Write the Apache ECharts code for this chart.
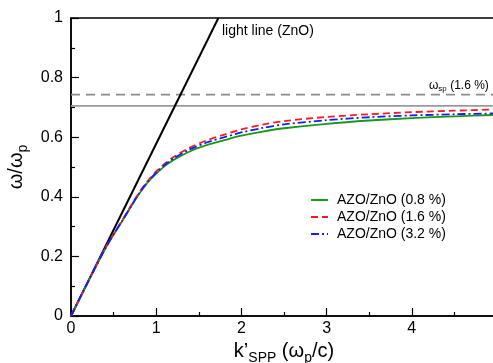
<!DOCTYPE html>
<html>
<head>
<meta charset="utf-8">
<script src="https://cdn.jsdelivr.net/npm/echarts@6/dist/echarts.min.js"></script>
<style>html,body{margin:0;padding:0;background:#fff}#c{width:493px;height:363px}</style>
</head>
<body>
<div id="c"></div>
<script>
var kValues = [0,0.1,0.2,0.3,0.4,0.5,0.6,0.7,0.8,0.9,1.0,1.1,1.2,1.4,1.6,1.8,2.0,2.25,2.5,3.0,3.5,4.0,4.5,5.0];
var azo08 = [0,0.058,0.115,0.171,0.225,0.273,0.318,0.365,0.41,0.448,0.478,0.503,0.523,0.553,0.574,0.590,0.605,0.619,0.630,0.645,0.656,0.664,0.670,0.675];
var azo16 = [0,0.058,0.115,0.171,0.226,0.275,0.321,0.368,0.414,0.453,0.485,0.511,0.533,0.566,0.590,0.609,0.626,0.642,0.654,0.668,0.677,0.684,0.689,0.693];
var azo32 = [0,0.058,0.115,0.171,0.225,0.274,0.319,0.366,0.412,0.450,0.481,0.507,0.528,0.560,0.583,0.600,0.616,0.631,0.643,0.657,0.667,0.673,0.677,0.680];
var lightLineK = [0, 1.73];
var lightLineW = [0, 1];
var omegaSp16 = 0.743;
var omegaRef = 0.705;
var xTicks = [0,1,2,3,4,5];
var yTicks = [0,0.2,0.4,0.6,0.8,1];
var seriesNames = ['AZO/ZnO (0.8 %)','AZO/ZnO (1.6 %)','AZO/ZnO (3.2 %)'];

function pairs(xs, ys){ return xs.map(function(x,i){return [x, ys[i]];}); }

var font = 'Liberation Sans, Arial, Helvetica, sans-serif';
var chart = echarts.init(document.getElementById('c'), null, {renderer:'canvas'});
chart.setOption({
  animation:false,
  backgroundColor:'#fff',
  grid:{left:71, top:18, right:-4, bottom:47, outerBoundsMode:'none', containLabel:false,
        show:true, borderColor:'#000', borderWidth:1.5, backgroundColor:'transparent'},
  legend:{
    data:seriesNames, orient:'vertical', left:310, top:193, itemGap:3, padding:0,
    itemWidth:17, itemHeight:10,
    itemStyle:{opacity:0},
    textStyle:{fontFamily:font, fontSize:14, color:'#000', padding:[0,0,0,4]}
  },
  xAxis:{
    type:'value', min:xTicks[0], max:xTicks[xTicks.length-1], interval:1,
    axisLine:{lineStyle:{color:'#000', width:1.5}},
    axisTick:{inside:true, length:8, lineStyle:{color:'#000', width:1.2}},
    minorTick:{show:true, splitNumber:2, length:4, lineStyle:{color:'#000', width:1.2}},
    splitLine:{show:false},
    axisLabel:{fontFamily:font, fontSize:16, color:'#000', margin:5},
    name:'{k|k’}{sub|SPP}{k| (ω}{sub|p}{k|/c)}', nameLocation:'middle', nameGap:21,
    nameTextStyle:{rich:{
      k:{fontFamily:font, fontSize:20, color:'#000'},
      sub:{fontFamily:font, fontSize:14, color:'#000', padding:[12,0,0,0]}
    }}
  },
  yAxis:{
    type:'value', min:yTicks[0], max:yTicks[yTicks.length-1], interval:0.2,
    axisLine:{lineStyle:{color:'#000', width:1.5}},
    axisTick:{inside:true, length:8, lineStyle:{color:'#000', width:1.2}},
    minorTick:{show:true, splitNumber:2, length:4, lineStyle:{color:'#000', width:1.2}},
    splitLine:{show:false},
    axisLabel:{fontFamily:font, fontSize:16, color:'#000', margin:8},
    name:'{k|ω/ω}{sub|p}', nameLocation:'middle', nameGap:33, nameRotate:90,
    nameTextStyle:{rich:{
      k:{fontFamily:font, fontSize:20, color:'#000'},
      sub:{fontFamily:font, fontSize:14, color:'#000', padding:[12,0,0,0]}
    }}
  },
  series:[
    {name:'ref', type:'line', data:[[0,omegaRef],[5,omegaRef]], symbol:'none', silent:true,
     lineStyle:{color:'#9a9a9a', width:1.6}},
    {name:'sp', type:'line', data:[[0,omegaSp16],[5,omegaSp16]], symbol:'none', silent:true,
     lineStyle:{color:'#8c8c8c', width:1.8, type:[9,6]}},
    {name:'light', type:'line', data:pairs(lightLineK, lightLineW), symbol:'none',
     lineStyle:{color:'#000', width:2}},
    {name:seriesNames[0], type:'line', data:pairs(kValues, azo08), symbol:'none', smooth:0.3,
     itemStyle:{color:'#169a16'}, lineStyle:{color:'#169a16', width:1.8}},
    {name:seriesNames[1], type:'line', data:pairs(kValues, azo16), symbol:'none', smooth:0.3,
     itemStyle:{color:'#ff1a1a'}, lineStyle:{color:'#ff1a1a', width:1.8, type:[7,4]}},
    {name:seriesNames[2], type:'line', data:pairs(kValues, azo32), symbol:'none', smooth:0.3,
     itemStyle:{color:'#1a1aff'}, lineStyle:{color:'#1a1aff', width:1.8, type:[8,3,2,3]}}
  ],
  graphic:[
    {type:'text', left:222, top:24, style:{text:'light line (ZnO)', font:'14px '+font, fill:'#000'}},
    {type:'text', left:429, top:79, style:{
      text:'{w|ω}{s|sp}{t| (1.6 %)}',
      rich:{
        w:{fontFamily:font, fontSize:12, fill:'#000', backgroundColor:'#fff'},
        s:{fontFamily:font, fontSize:8, fill:'#000', backgroundColor:'#fff', padding:[6,0,0,0]},
        t:{fontFamily:font, fontSize:12, fill:'#000', backgroundColor:'#fff'}
      }}}
  ]
});
</script>
</body>
</html>
